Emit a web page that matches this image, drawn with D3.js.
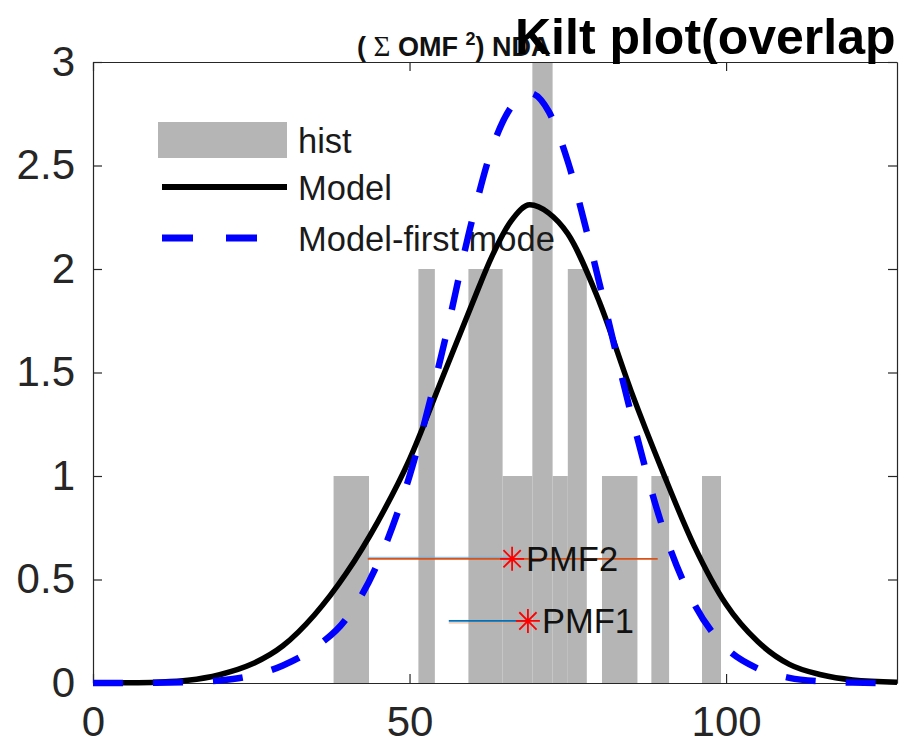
<!DOCTYPE html>
<html>
<head>
<meta charset="utf-8">
<script src="https://cdn.jsdelivr.net/npm/d3@7"></script>
<style>
  html, body { margin: 0; padding: 0; background: #ffffff; }
  svg { display: block; }
  text { font-family: "Liberation Sans", Arial, Helvetica, sans-serif; }
</style>
</head>
<body>
<svg id="chart" width="899" height="745"></svg>
<script>
// ---------------- data ----------------
// histogram: bar left edge, bar right edge, count
const histStart = [38.0, 51.4, 59.3, 64.7, 69.4, 72.6, 75.0, 80.4, 88.2, 96.2];
const histEnd   = [43.6, 54.0, 64.7, 69.4, 72.6, 75.0, 78.0, 86.0, 91.0, 99.2];
const histCount = [1, 2, 2, 1, 3, 1, 2, 1, 1, 1];

// "Model" curve (black)
const modelX = [0, 5, 10, 15, 20, 25, 30, 35, 40, 45, 50, 55, 60, 63, 66, 69, 72, 75, 80, 85, 90, 95, 100, 105, 110, 115, 120, 127];
const modelY = [0, 0.001, 0.004, 0.013, 0.04, 0.09, 0.18, 0.33, 0.53, 0.78, 1.08, 1.46, 1.84, 2.06, 2.23, 2.31, 2.27, 2.17, 1.84, 1.41, 1.02, 0.66, 0.38, 0.20, 0.09, 0.04, 0.015, 0.004];

// "Model-first mode" curve (blue dashed)
const firstX = [0, 10, 15, 20, 25, 30, 35, 40, 45, 50, 55, 60, 63, 66, 69, 72, 75, 78, 80, 85, 90, 95, 100, 105, 110, 115, 120, 127];
const firstY = [0, 0.001, 0.004, 0.012, 0.035, 0.085, 0.17, 0.31, 0.58, 1.00, 1.58, 2.25, 2.58, 2.78, 2.85, 2.76, 2.52, 2.18, 1.93, 1.30, 0.75, 0.38, 0.17, 0.07, 0.025, 0.008, 0.002, 0];

// PMF markers: centre, interval low / high, level
const pmfLabels = ["PMF2", "PMF1"];
const pmfCenter = [66.2, 68.7];
const pmfLow    = [43.4, 56.2];
const pmfHigh   = [89.2, 68.7];
const pmfLevel  = [0.6, 0.3];

// axes
const xDomain = [0, 127];
const yDomain = [0, 3];
const xTicks = [0, 50, 100];
const yTicks = [0, 0.5, 1, 1.5, 2, 2.5, 3];
const legendLabels = ["hist", "Model", "Model-first mode"];

// ---------------- drawing ----------------
const svg = d3.select("#chart");
const L = 93, R = 897, T = 62, B = 683;
const x = d3.scaleLinear().domain(xDomain).range([L, R]);
const y = d3.scaleLinear().domain(yDomain).range([B, T]);

const axisColor = "#262626";
const barColor = "#b5b5b5";

svg.append("rect").attr("width", 899).attr("height", 745).attr("fill", "#ffffff");

svg.append("defs").append("clipPath").attr("id", "plotclip")
  .append("rect").attr("x", L).attr("y", T - 4).attr("width", R - L + 4).attr("height", B - T + 8);

// histogram bars
const bars = histStart.map((s, i) => ({ s, e: histEnd[i], c: histCount[i] }));
svg.append("g").selectAll("rect").data(bars).join("rect")
  .attr("x", d => x(d.s))
  .attr("width", d => x(d.e) - x(d.s))
  .attr("y", d => y(d.c))
  .attr("height", d => y(0) - y(d.c))
  .attr("fill", barColor);

// axes (box with inward ticks)
function styleAxis(g) {
  g.selectAll("path.domain").attr("stroke", axisColor).attr("stroke-width", 1.2);
  g.selectAll(".tick line").attr("stroke", axisColor).attr("stroke-width", 1.2);
  g.selectAll(".tick text").attr("fill", axisColor)
    .style("font-family", '"Liberation Sans", Arial, sans-serif').style("font-size", "42px");
}
svg.append("g").attr("transform", `translate(0,${B})`)
  .call(d3.axisBottom(x).tickValues(xTicks).tickFormat(d3.format("d")).tickSizeInner(-9).tickSizeOuter(0).tickPadding(23))
  .call(styleAxis);
svg.append("g").attr("transform", `translate(0,${T})`)
  .call(d3.axisTop(x).tickValues(xTicks).tickFormat("").tickSizeInner(-9).tickSizeOuter(0))
  .call(styleAxis);
svg.append("g").attr("transform", `translate(${L},0)`)
  .call(d3.axisLeft(y).tickValues(yTicks).tickFormat(d => d3.format("")(d)).tickSizeInner(-9).tickSizeOuter(0).tickPadding(18))
  .call(styleAxis);
svg.append("g").attr("transform", `translate(${R},0)`)
  .call(d3.axisRight(y).tickValues(yTicks).tickFormat("").tickSizeInner(-9).tickSizeOuter(0))
  .call(styleAxis);

// legend (transparent, drawn under curves)
const lg = svg.append("g");
lg.append("rect").attr("x", 158).attr("y", 122).attr("width", 129).attr("height", 36).attr("fill", barColor);
lg.append("line").attr("x1", 162).attr("x2", 287).attr("y1", 187).attr("y2", 187)
  .attr("stroke", "#000").attr("stroke-width", 6);
lg.append("line").attr("x1", 162).attr("x2", 287).attr("y1", 238).attr("y2", 238)
  .attr("stroke", "#0000ff").attr("stroke-width", 7).attr("stroke-dasharray", "31,33");
lg.selectAll("text").data(legendLabels).join("text")
  .attr("x", 298)
  .attr("y", (d, i) => [141, 188, 239][i])
  .attr("dy", "0.35em")
  .attr("font-size", 34.5)
  .attr("fill", "#1a1a1a")
  .text(d => d);

// PMF interval lines, markers and labels
const pmf = pmfLabels.map((lab, i) => ({ lab, c: pmfCenter[i], lo: pmfLow[i], hi: pmfHigh[i], v: pmfLevel[i] }));
const pg = svg.append("g");
pg.selectAll("line.pmfb").data(pmf).join("line").attr("class", "pmfb")
  .attr("x1", d => x(d.lo)).attr("x2", d => x(d.c))
  .attr("y1", (d, i) => y(d.v) + (i === 0 ? -1.5 : 2)).attr("y2", (d, i) => y(d.v) + (i === 0 ? -1.5 : 2))
  .attr("stroke", (d, i) => i === 0 ? "#6fa8d6" : "#e3a27a").attr("stroke-width", 1.2).attr("opacity", 0.7);
pg.selectAll("line.pmf").data(pmf).join("line").attr("class", "pmf")
  .attr("x1", d => x(d.lo)).attr("x2", d => x(d.hi))
  .attr("y1", d => y(d.v)).attr("y2", d => y(d.v))
  .attr("stroke", (d, i) => i === 0 ? "#D95319" : "#0072BD").attr("stroke-width", 1.8);
const star = 12;
const starPath = d => {
  const cx = x(d.c), cy = y(d.v), r = star, q = r * 0.72;
  return `M${cx - r},${cy}L${cx + r},${cy}M${cx},${cy - r}L${cx},${cy + r}` +
         `M${cx - q},${cy - q}L${cx + q},${cy + q}M${cx - q},${cy + q}L${cx + q},${cy - q}`;
};
pg.selectAll("path.star").data(pmf).join("path").attr("class", "star")
  .attr("d", starPath).attr("stroke", "#ff0000").attr("stroke-width", 1.8).attr("fill", "none");
pg.selectAll("text").data(pmf).join("text")
  .attr("x", d => x(d.c) + 14).attr("y", d => y(d.v)).attr("dy", "0.36em")
  .attr("font-size", 34.5).attr("fill", "#111").text(d => d.lab);

// curves
const line = d3.line().x(d => x(d[0])).y(d => y(d[1])).curve(d3.curveMonotoneX);
const cg = svg.append("g").attr("clip-path", "url(#plotclip)");
cg.append("path").datum(modelX.map((v, i) => [v, modelY[i]]))
  .attr("d", line).attr("fill", "none").attr("stroke", "#000").attr("stroke-width", 5.5);
cg.append("path").datum(firstX.map((v, i) => [v, firstY[i]]))
  .attr("d", line).attr("fill", "none").attr("stroke", "#0000ff").attr("stroke-width", 6.5)
  .attr("stroke-dasharray", "30,30");

// titles (overlapping, as in the reference)
const t1 = svg.append("text").attr("x", 357).attr("y", 56).attr("font-size", 27).attr("font-weight", "bold").attr("fill", "#111");
t1.append("tspan").text("( ");
t1.append("tspan").attr("font-family", '"Liberation Serif", "DejaVu Serif", serif').attr("font-weight", "normal").attr("font-size", 29).text("Σ");
t1.append("tspan").text(" OMF ");
t1.append("tspan").attr("font-size", 18).attr("dy", -11).text("2");
t1.append("tspan").attr("dy", 11).text(") NDA");
svg.append("text").attr("x", 515).attr("y", 54).attr("font-size", 50).attr("font-weight", "bold").attr("fill", "#000")
  .text("Kilt plot(overlap");
</script>
</body>
</html>
